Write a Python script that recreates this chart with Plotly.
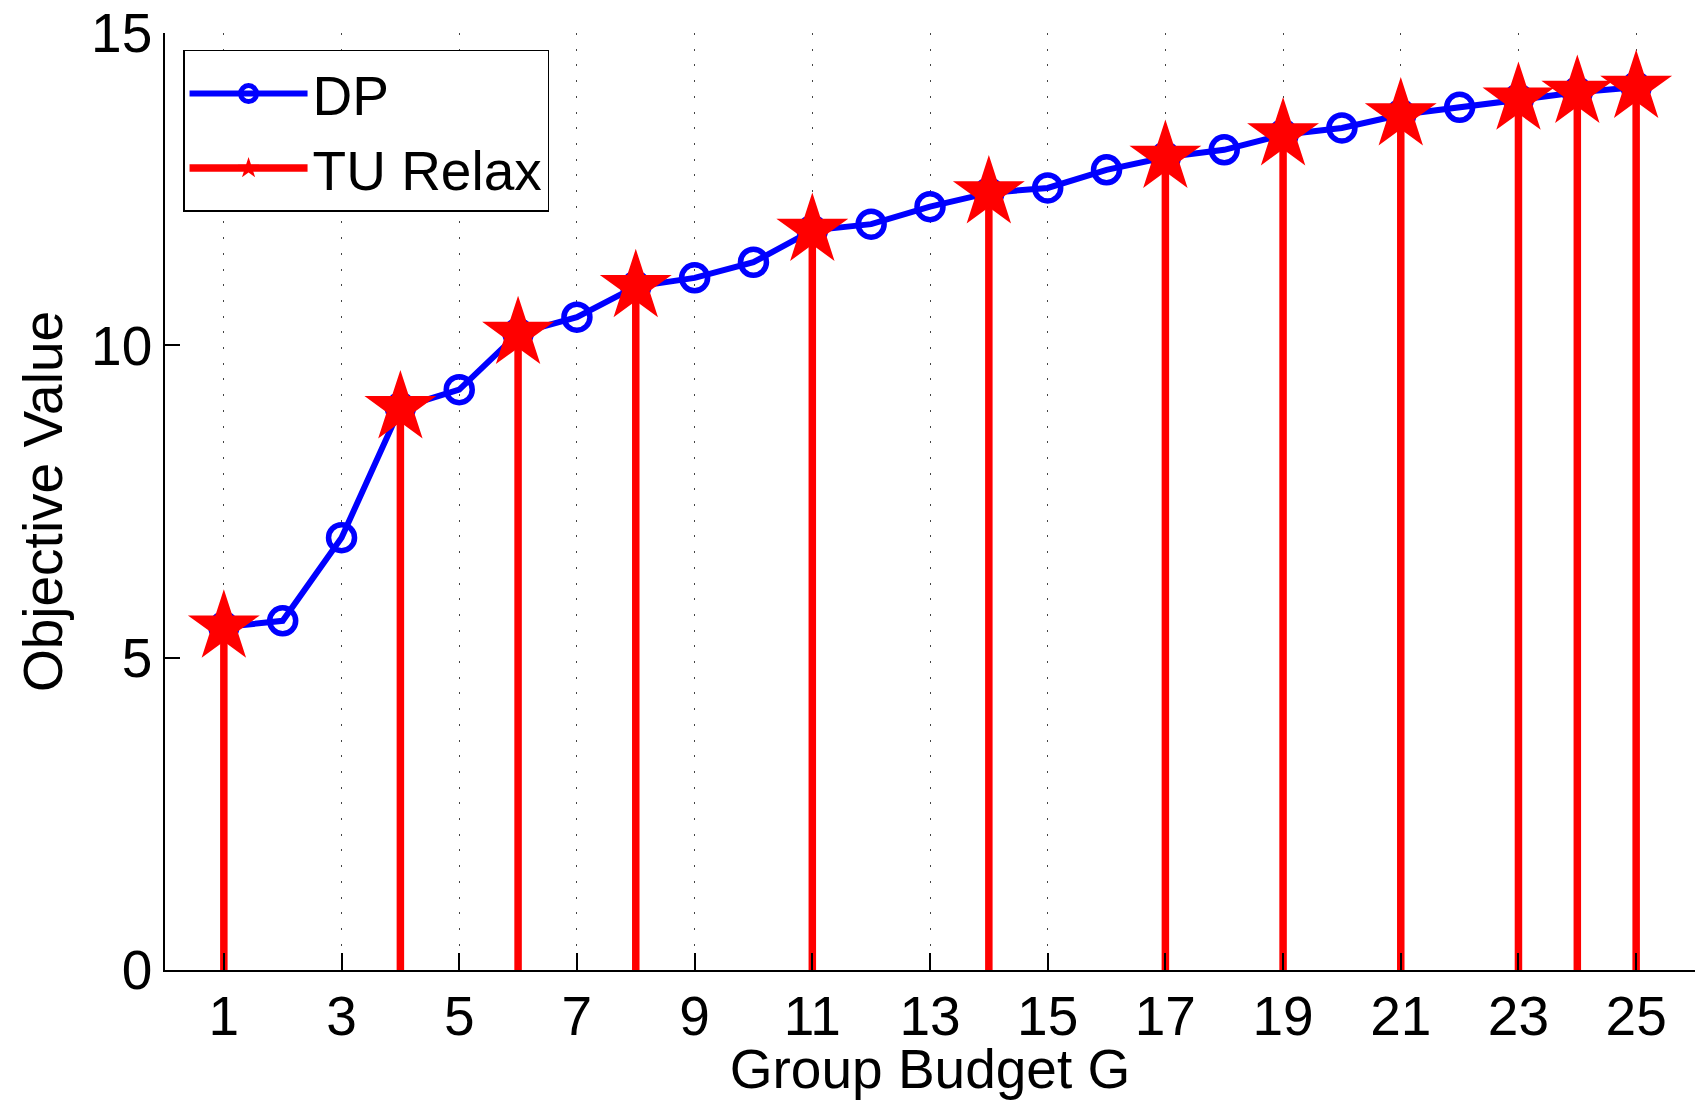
import plotly.graph_objects as go

# ---- data ----
budget = [1, 2, 3, 4, 5, 6, 7, 8, 9, 10, 11, 12, 13, 14, 15, 16, 17, 18, 19, 20, 21, 22, 23, 24, 25]
dp_values = [5.49, 5.59, 6.92, 9.00, 9.29, 10.19, 10.45, 10.94, 11.08, 11.33, 11.84, 11.94,
             12.22, 12.44, 12.52, 12.81, 13.01, 13.13, 13.37, 13.48, 13.69, 13.81, 13.94, 14.05, 14.13]
tu_budget = [1, 4, 6, 8, 11, 14, 17, 19, 21, 23, 24, 25]
tu_values = [5.49, 9.00, 10.19, 10.94, 11.84, 12.44, 13.01, 13.37, 13.69, 13.94, 14.05, 14.13]
x_ticks = [1, 3, 5, 7, 9, 11, 13, 15, 17, 19, 21, 23, 25]
y_ticks = [0, 5, 10, 15]

FONT = "Liberation Sans, Arial, Helvetica, sans-serif"
BLUE = "#0000FF"
RED = "#FF0000"

# stems for the TU Relax stem plot (base at 0)
stem_x, stem_y = [], []
for b, v in zip(tu_budget, tu_values):
    stem_x += [b, b, None]
    stem_y += [0, v, None]

fig = go.Figure()

fig.add_trace(go.Scatter(
    x=budget, y=dp_values, mode="lines+markers", name="DP",
    line=dict(color=BLUE, width=6),
    marker=dict(symbol="circle-open", size=26, color=BLUE, line=dict(width=5.5, color=BLUE)),
))

fig.add_trace(go.Scatter(
    x=stem_x, y=stem_y, mode="lines", name="TU Relax", showlegend=False,
    legendgroup="tu", line=dict(color=RED, width=7.5),
))
fig.add_trace(go.Scatter(
    x=tu_budget, y=tu_values, mode="markers", name="TU Relax", showlegend=False,
    legendgroup="tu", marker=dict(symbol="star", size=54, color=RED, line=dict(width=0)),
))
# legend entry (line + star)
fig.add_trace(go.Scatter(
    x=[None], y=[None], mode="lines+markers", name="TU Relax", legendgroup="tu",
    line=dict(color=RED, width=7.5),
    marker=dict(symbol="star", size=54, color=RED),
))

fig.update_layout(
    width=1695, height=1100,
    margin=dict(l=165, r=0, t=33, b=125, pad=0),
    paper_bgcolor="white", plot_bgcolor="white",
    font=dict(family=FONT, size=55, color="black"),
    showlegend=True,
    legend=dict(
        x=0.0118, y=0.982, xanchor="left", yanchor="top",
        bgcolor="white", bordercolor="black", borderwidth=1.5,
        font=dict(family=FONT, size=55, color="black"),
        itemwidth=118, tracegroupgap=0,
    ),
    xaxis=dict(
        range=[0, 26], tickmode="array", tickvals=x_ticks, ticktext=[str(t) for t in x_ticks],
        ticks="inside", ticklen=17, tickwidth=1.5, tickcolor="black",
        showline=True, linecolor="black", linewidth=1.5, mirror=False,
        showgrid=True, gridcolor="#444444", gridwidth=1.2, griddash="2px,13.7px",
        zeroline=False, tickfont=dict(family=FONT, size=55), ticklabeloverflow="allow",
        ticklabelstandoff=-3,
        title=dict(text="Group Budget G", font=dict(family=FONT, size=55), standoff=15),
    ),
    yaxis=dict(
        range=[0, 15], tickmode="array", tickvals=y_ticks, ticktext=[str(t) for t in y_ticks],
        ticks="inside", ticklen=15, tickwidth=1.5, tickcolor="black",
        showline=True, linecolor="black", linewidth=1.5, mirror=False,
        showgrid=False, zeroline=False, tickfont=dict(family=FONT, size=55), ticklabeloverflow="allow",
        title=dict(text="Objective Value", font=dict(family=FONT, size=55), standoff=11),
    ),
)

fig.write_html(
    "out.html",
    config={"displayModeBar": False},
    post_script="document.body.style.margin='0';document.body.style.overflow='hidden';",
)
